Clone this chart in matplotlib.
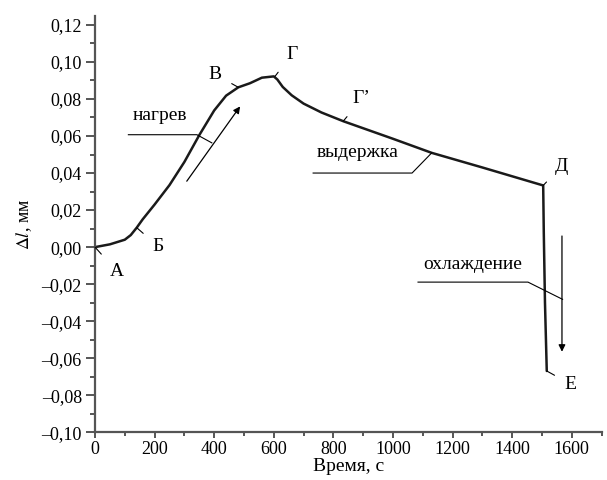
import matplotlib
matplotlib.use("Agg")
import matplotlib.pyplot as plt
import numpy as np

plt.rcParams['font.family'] = ['Liberation Serif', 'DejaVu Serif']
plt.rcParams['mathtext.fontset'] = 'stix'

# curve (time, s ; delta l, mm)
time_s = [0, 50, 100, 120, 140, 160, 200, 250, 300, 350, 400, 440, 481, 520,
          560, 600, 612, 630, 660, 700, 760, 833, 1000, 1130, 1300, 1504,
          1506, 1510, 1516]
dl_mm = [0.0, 0.0015, 0.004, 0.0065, 0.0105, 0.015, 0.023, 0.0335, 0.046, 0.0605,
         0.0738, 0.0818, 0.0863, 0.0885, 0.0915, 0.0922, 0.0905, 0.0865, 0.082,
         0.0775, 0.0727, 0.068, 0.0585, 0.0509, 0.043, 0.0333, 0.008, -0.03,
         -0.0669]

xticks = [0, 200, 400, 600, 800, 1000, 1200, 1400, 1600]
yticks = [-0.10, -0.08, -0.06, -0.04, -0.02, 0.00, 0.02, 0.04, 0.06, 0.08, 0.10, 0.12]

# point labels: text, curve point, text position
points = [
    ("А", (0, 0.0), (73, -0.013)),
    ("Б", (140, 0.0105), (211, 0.0005)),
    ("В", (481, 0.0863), (403, 0.0933)),
    ("Г", (604, 0.0922), (660, 0.104)),
    ("Г’", (833, 0.068), (895, 0.080)),
    ("Д", (1504, 0.0333), (1566, 0.0437)),
    ("Е", (1516, -0.0669), (1596, -0.074)),
]

fig = plt.figure(figsize=(6.07, 4.8), dpi=100)
ax = fig.add_axes([0.1565, 0.0994, 0.8346, 0.868])

ax.plot(time_s, dl_mm, color='#1a1a1a', lw=1.8, solid_capstyle='round',
        solid_joinstyle='round')

ax.set_xlim(0, 1700)
ax.set_ylim(-0.10, 0.125)
ax.set_xticks(xticks)
ax.set_xticklabels([str(v) for v in xticks])
ax.set_xticks(np.arange(100, 1800, 200), minor=True)
ax.set_yticks(yticks)
ax.set_yticklabels([f"{v:.2f}".replace('.', ',').replace('-', '–') for v in yticks])
ax.set_yticks(np.arange(-0.09, 0.12, 0.02), minor=True)

for s in ['top', 'right']:
    ax.spines[s].set_visible(False)
for s in ['left', 'bottom']:
    ax.spines[s].set_color('#555555')
    ax.spines[s].set_linewidth(1.6)

ax.tick_params(axis='both', which='both', colors='#555555', labelcolor='black',
               labelsize=13, direction='out', width=1.4)
ax.tick_params(axis='y', which='major', length=6.5, pad=3)
ax.tick_params(axis='y', which='minor', length=3.5)
ax.tick_params(axis='x', which='major', length=4, pad=2)
ax.tick_params(axis='x', which='minor', length=3)

ax.set_xlabel("Время, с", fontsize=14, labelpad=0)
ax.set_ylabel(r"$\Delta\mathit{l}$, мм", fontsize=13, labelpad=5)

for txt, (px, py), (tx, ty) in points:
    ax.annotate(txt, xy=(px, py), xytext=(tx, ty), fontsize=14,
                ha='center', va='center',
                arrowprops=dict(arrowstyle='-', color='black', lw=0.8,
                                shrinkA=6, shrinkB=0))

# нагрев
ax.text(218, 0.0663, "нагрев", fontsize=14, ha='center', va='bottom')
ax.plot([112, 342, 392], [0.0607, 0.0607, 0.0563], color='black', lw=0.8)
ax.annotate("", xy=(487, 0.076), xytext=(308, 0.0356),
            arrowprops=dict(arrowstyle='-|>', color='black', lw=0.9,
                            mutation_scale=10, shrinkA=0, shrinkB=0))

# выдержка
ax.text(882, 0.0464, "выдержка", fontsize=14, ha='center', va='bottom')
ax.plot([732, 1064, 1130], [0.040, 0.040, 0.0509], color='black', lw=0.8)

# охлаждение
ax.text(1268, -0.014, "охлаждение", fontsize=14, ha='center', va='bottom')
ax.plot([1084, 1453, 1569], [-0.0189, -0.0189, -0.0282], color='black', lw=0.8)
ax.annotate("", xy=(1567, -0.0565), xytext=(1567, 0.006),
            arrowprops=dict(arrowstyle='-|>', color='black', lw=0.9,
                            mutation_scale=10, shrinkA=0, shrinkB=0))

fig.savefig("out.png", dpi=100)
